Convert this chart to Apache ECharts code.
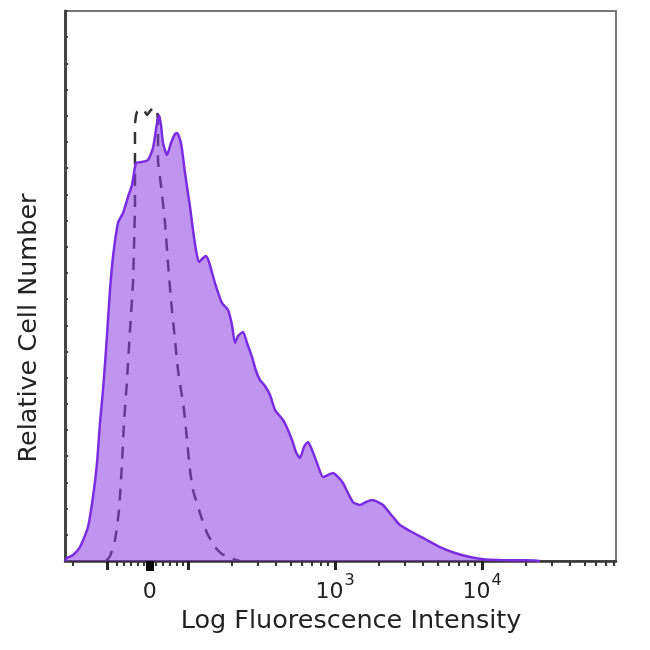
<!DOCTYPE html>
<html>
<head>
<meta charset="utf-8">
<script src="https://cdn.jsdelivr.net/npm/echarts@6/dist/echarts.min.js"></script>
<style>
html,body{margin:0;padding:0;background:#fff;}
#c{width:650px;height:650px;}
</style>
</head>
<body>
<div id="c"></div>
<script>
// Display channel units (0-1000 across the biexponential axis)
const fillX = [0,3.6,14.5,27.2,41.7,50.8,58.1,63.5,69.0,74.4,81.7,87.1,96.2,105.3,114.3,121.6,128.9,139.7,150.6,159.7,167.0,170.6,174.2,177.9,185.1,192.4,199.6,203.3,210.5,217.8,226.9,232.3,237.7,243.2,250.5,255.9,261.3,272.2,284.9,295.8,303.1,308.5,314.0,323.1,330.3,339.4,346.7,354.0,363.0,372.1,381.2,395.7,404.7,412.0,419.2,426.5,433.7,441.0,448.3,457.3,468.2,477.3,486.4,495.4,504.5,513.6,522.7,535.4,546.3,557.2,568.1,577.1,595.3,608.0,626.1,653.4,680.6,707.8,735.0,762.3,789.5,825.8,853.0,862.0];
const fillY = [0,0.57,1.15,2.67,6.49,12.22,18.71,26.35,32.65,40.28,51.74,58.04,64.53,66.44,69.49,71.78,75.98,76.17,76.55,78.85,83.62,85.15,83.24,79.80,77.51,79.80,81.52,81.71,79.80,74.07,67.58,63.19,59.37,57.08,57.84,58.23,57.08,53.07,49.25,47.92,45.05,41.62,42.95,43.72,41.62,38.95,36.27,34.55,33.41,31.69,28.83,26.92,25.01,23.10,20.81,19.66,21.76,22.72,21.19,18.71,16.04,16.42,16.80,16.04,14.89,12.98,11.26,10.69,11.26,11.65,11.26,10.69,8.40,6.87,5.73,4.20,2.67,1.53,0.76,0.29,0.19,0.13,0.10,0];
const dashX = [74.4,81.7,90.7,98.0,103.4,107.1,112.5,118.0,123.4,125.2,127.0,127.0,127.0,130.7,137.9,143.4,148.8,154.3,161.5,167.0,168.8,168.8,174.2,181.5,186.9,192.4,199.6,205.1,210.5,216.0,221.4,226.9,232.3,245.0,257.7,272.2,284.9,299.5,317.6];
const dashY = [0,0.95,4.01,9.74,18.71,26.35,34.55,44.10,53.07,59.95,68.35,76.55,83.24,85.72,86.29,86.10,85.15,85.91,86.48,86.10,82.28,76.55,71.78,64.53,56.89,49.83,42.19,36.46,32.65,28.83,23.10,17.37,13.55,9.16,5.35,2.67,1.34,0.57,0];

const majorTicks = [76,223,490,757];
const zeroTick = [154];
const minorTicks = [14.5,94,107,120,132,143,165,178,191,203,214,303,350,383,410,430,448,465,477,570,617,650,677,697,715,731,744,837,884,916,944,963,982,996];
const labelPos = [154,490,757];
const labelBase = ['0','10','10'];
const labelExp = ['','3','4'];

const FONT = 'DejaVu Sans';
const pairs = (xs, ys) => xs.map((x, i) => [x, ys[i]]);

const chart = echarts.init(document.getElementById('c'), null, {renderer: 'canvas'});
const baseX = {type: 'value', min: 0, max: 1000, position: 'bottom', splitLine: {show: false}};
chart.setOption({
  animation: false,
  backgroundColor: '#fff',
  grid: {left: 65, top: 11, right: 34, bottom: 89, show: true, borderColor: '#777', borderWidth: 2, backgroundColor: 'transparent'},
  xAxis: [
    Object.assign({}, baseX, {
      axisLine: {show: true, onZero: false, lineStyle: {color: '#333', width: 2.5}},
      axisTick: {show: true, customValues: majorTicks, length: 9, lineStyle: {color: '#222', width: 3}},
      axisLabel: {
        show: true, customValues: labelPos, margin: 12,
        formatter: function (v) {
          let i = labelPos.indexOf(v);
          if (i < 0) { i = labelPos.findIndex(p => Math.abs(p - v) < 0.01); }
          if (i < 0) return '';
          return labelExp[i] ? '{b|' + labelBase[i] + '}{s|' + labelExp[i] + '}' : '{b|' + labelBase[i] + '}';
        },
        rich: {
          b: {fontFamily: FONT, fontSize: 22, color: '#222', verticalAlign: 'bottom', lineHeight: 30},
          s: {fontFamily: FONT, fontSize: 16, color: '#222', verticalAlign: 'top', lineHeight: 16, padding: [0, 0, 0, 1]}
        }
      }
    }),
    Object.assign({}, baseX, {
      axisLine: {show: false, onZero: false},
      axisTick: {show: true, customValues: minorTicks, length: 5, lineStyle: {color: '#333', width: 2}},
      axisLabel: {show: false}
    }),
    Object.assign({}, baseX, {
      axisLine: {show: false, onZero: false},
      axisTick: {show: true, customValues: zeroTick, length: 10, lineStyle: {color: '#000', width: 8}},
      axisLabel: {show: false}
    })
  ],
  yAxis: {
    type: 'value', min: 0, max: 105, interval: 5,
    axisLine: {show: true, onZero: false, lineStyle: {color: '#444', width: 3}},
    axisTick: {show: true, inside: true, length: 3, lineStyle: {color: '#444', width: 2}},
    axisLabel: {show: false},
    splitLine: {show: false}
  },
  graphic: [
    {type: 'text', x: 351, y: 621, style: {text: 'Log Fluorescence Intensity', font: '25.5px "DejaVu Sans"', fill: '#222', align: 'center', verticalAlign: 'middle'}},
    {type: 'text', x: 29, y: 328, rotation: Math.PI / 2, style: {text: 'Relative Cell Number', font: '25.5px "DejaVu Sans"', fill: '#222', align: 'center', verticalAlign: 'middle'}}
  ],
  series: [
    {
      type: 'line', name: 'control', data: pairs(dashX, dashY), z: 1,
      showSymbol: false, smooth: 0.2,
      lineStyle: {color: '#333', width: 2.5, type: [12, 9]}
    },
    {
      type: 'line', name: 'stained', data: pairs(fillX, fillY), z: 2,
      showSymbol: false, smooth: 0.2,
      lineStyle: {color: '#7a2de0', width: 2.5},
      areaStyle: {color: 'rgb(140,62,225)', opacity: 0.55, origin: 'start'}
    }
  ]
});
</script>
</body>
</html>
